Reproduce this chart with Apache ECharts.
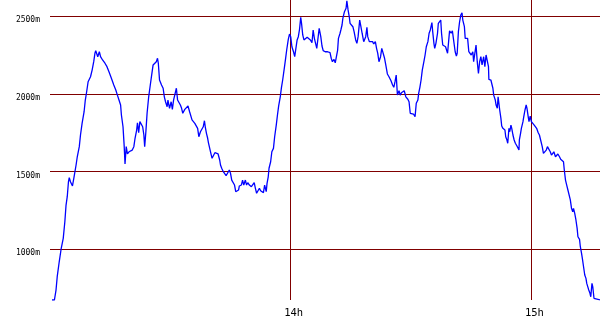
<!DOCTYPE html>
<html>
<head>
<meta charset="utf-8">
<script src="https://cdn.jsdelivr.net/npm/echarts@6/dist/echarts.min.js"></script>
<style>
html,body{margin:0;padding:0;background:#fff;}
#chart{width:600px;height:330px;}
</style>
</head>
<body>
<div id="chart"></div>
<script>
// x: minutes after 13:00, y: altitude in metres
const altitudeTrack = [
[0.5,674],[1.1,674],[1.5,738],[1.8,824],[2.3,920],[2.8,1007],[3.3,1071],[3.7,1178],[4.0,1285],[4.3,1339],[4.6,1435],[4.8,1461],[5.1,1435],[5.6,1408],[6.0,1467],[6.5,1543],[6.8,1596],[7.3,1661],[7.6,1736],[8.0,1811],[8.5,1886],[8.8,1961],[9.1,2008],[9.5,2079],[9.9,2069],[10.1,2111],[10.5,2154],[10.9,2208],[11.2,2262],[11.4,2279],[11.9,2240],[12.3,2272],[12.6,2240],[13.1,2219],[13.7,2198],[14.2,2176],[14.7,2143],[15.3,2101],[15.9,2058],[16.4,2026],[16.8,1993],[17.2,1961],[17.6,1929],[17.8,1865],[18.1,1854],[18.2,1789],[18.5,1661],[18.7,1549],[19.0,1661],[19.3,1614],[19.7,1628],[20.1,1628],[20.5,1639],[20.9,1661],[21.2,1715],[21.6,1768],[21.8,1815],[22.1,1751],[22.4,1822],[22.8,1828],[23.1,1789],[23.4,1736],[23.6,1661],[23.9,1757],[24.2,1876],[24.6,1982],[25.0,2058],[25.4,2133],[25.7,2187],[26.1,2198],[26.5,2208],[26.8,2230],[27.0,2198],[27.3,2090],[27.4,2079],[27.8,2058],[28.2,2037],[28.5,1982],[28.8,1950],[29.2,1918],[29.4,1961],[29.8,1908],[30.2,1950],[30.5,1901],[30.8,1961],[31.2,1961],[31.5,2037],[31.8,1961],[32.2,1957],[32.5,1929],[32.8,1908],[33.1,1876],[33.6,1901],[34.0,1901],[34.4,1923],[34.8,1886],[35.1,1876],[35.4,1833],[35.7,1843],[36.1,1811],[36.5,1800],[36.8,1779],[37.1,1725],[37.5,1757],[37.9,1768],[38.2,1789],[38.5,1828],[38.7,1789],[39.0,1747],[39.3,1715],[39.5,1686],[39.9,1678],[40.1,1618],[40.4,1586],[40.8,1596],[41.1,1622],[41.5,1622],[41.9,1614],[42.3,1575],[42.5,1543],[42.8,1522],[43.2,1500],[43.6,1493],[43.9,1474],[44.3,1485],[44.7,1511],[45.0,1489],[45.3,1446],[45.7,1435],[46.0,1414],[46.3,1371],[46.7,1382],[47.0,1382],[47.2,1408],[47.7,1414],[48.0,1446],[48.3,1414],[48.7,1446],[49.0,1414],[49.3,1429],[49.7,1414],[50.2,1403],[50.6,1393],[50.9,1429],[51.2,1393],[51.5,1361],[51.9,1371],[52.2,1393],[52.5,1377],[52.9,1386],[53.2,1365],[53.5,1414],[53.9,1371],[54.1,1425],[54.4,1467],[54.6,1522],[55.0,1564],[55.3,1628],[55.7,1650],[56.0,1725],[56.4,1800],[56.7,1865],[57.0,1923],[57.4,1982],[57.7,2043],[58.0,2090],[58.4,2165],[58.7,2223],[59.0,2283],[59.4,2352],[59.7,2386],[60.0,2369],[60.3,2304],[60.7,2272],[61.0,2240],[61.3,2230],[61.6,2348],[61.9,2369],[62.2,2416],[62.5,2494],[62.7,2455],[63.0,2380],[63.3,2348],[63.7,2358],[64.1,2365],[64.5,2358],[64.9,2348],[65.3,2330],[65.6,2412],[65.9,2358],[66.1,2369],[66.5,2294],[66.8,2283],[67.1,2423],[67.5,2369],[67.8,2309],[68.1,2279],[68.6,2272],[69.2,2272],[69.8,2266],[70.1,2230],[70.4,2208],[70.8,2223],[71.1,2201],[71.4,2208],[71.7,2283],[71.9,2358],[72.3,2391],[72.5,2412],[72.8,2444],[73.0,2487],[73.4,2530],[73.8,2552],[74.0,2600],[74.3,2541],[74.6,2497],[74.8,2455],[75.2,2444],[75.5,2433],[75.8,2401],[76.2,2348],[76.5,2326],[76.8,2369],[77.2,2476],[77.5,2433],[77.8,2391],[78.2,2337],[78.5,2348],[78.7,2369],[79.0,2429],[79.2,2369],[79.6,2337],[80.0,2348],[80.4,2337],[80.7,2322],[81.1,2337],[81.4,2294],[81.7,2262],[82.0,2208],[82.4,2240],[82.7,2294],[83.0,2288],[83.4,2230],[83.7,2187],[84.1,2129],[84.5,2111],[85.0,2085],[85.4,2058],[85.7,2043],[86.0,2079],[86.3,2122],[86.6,1993],[87.0,2021],[87.3,1993],[87.6,2008],[88.0,2004],[88.3,2021],[88.7,1982],[89.2,1966],[89.5,1950],[89.8,1876],[90.2,1871],[90.6,1871],[91.0,1854],[91.3,1940],[91.7,1961],[91.9,2004],[92.2,2043],[92.5,2090],[92.8,2154],[93.2,2208],[93.5,2251],[93.8,2304],[94.2,2337],[94.5,2391],[94.8,2412],[95.2,2459],[95.4,2401],[95.7,2326],[95.9,2294],[96.2,2326],[96.6,2391],[96.8,2455],[97.1,2450],[97.4,2476],[97.6,2391],[97.9,2315],[98.2,2304],[98.6,2304],[98.9,2294],[99.1,2262],[99.4,2348],[99.6,2407],[100.0,2391],[100.3,2407],[100.6,2348],[101.0,2272],[101.3,2244],[101.5,2262],[101.8,2401],[102.1,2465],[102.4,2508],[102.7,2523],[102.9,2476],[103.3,2433],[103.5,2358],[103.9,2352],[104.1,2358],[104.4,2272],[104.7,2262],[105.0,2251],[105.4,2272],[105.6,2208],[105.9,2208],[106.2,2315],[106.5,2208],[106.8,2133],[107.1,2208],[107.4,2240],[107.7,2187],[108.1,2240],[108.4,2176],[108.7,2251],[109.0,2262],[109.3,2176],[109.4,2094],[109.7,2101],[109.9,2090],[110.2,2094],[110.4,2037],[110.6,1993],[111.0,1961],[111.2,1929],[111.5,1908],[111.7,1982],[112.0,1993],[112.1,1897],[112.4,1843],[112.6,1794],[112.9,1779],[113.1,1789],[113.4,1768],[113.6,1725],[113.9,1704],[114.1,1683],[114.4,1779],[114.6,1757],[114.9,1800],[115.1,1779],[115.4,1736],[115.7,1704],[116.0,1683],[116.4,1665],[116.9,1639],[117.0,1704],[117.3,1747],[117.5,1779],[117.9,1822],[118.1,1854],[118.4,1897],[118.7,1929],[118.9,1908],[119.2,1854],[119.4,1822],[119.7,1858],[120.0,1822],[120.3,1833],[120.7,1800],[121.0,1811],[121.3,1779],[121.7,1751],[122.0,1736],[122.3,1747],[122.7,1661],[123.0,1618],[123.3,1628],[123.7,1639],[124.0,1661],[124.3,1657],[124.7,1628],[125.0,1607],[125.3,1618],[125.6,1628],[126.0,1596],[126.3,1586],[126.6,1614],[127.0,1596],[127.3,1580],[127.6,1586],[128.0,1564],[128.2,1511],[128.5,1446],[128.8,1414],[129.1,1382],[129.5,1371],[129.7,1318],[130.0,1264],[130.3,1242],[130.5,1264],[130.8,1232],[131.1,1189],[131.4,1135],[131.6,1081],[132.0,1064],[132.2,1017],[132.5,974],[132.7,942],[133.0,888],[133.3,835],[133.6,813],[133.8,781],[134.1,755],[134.3,738],[134.6,717],[134.8,695],[135.1,781],[135.3,759],[135.6,685],[135.8,674],[137.2,674]
];
const hourTicks = [60, 120];          // 14h, 15h
const altitudeTicks = [1000, 1500, 2000, 2500];
const xRange = [0, 137.1];
const yRange = [674, 2605];

const gridColor = '#800000';
const chart = echarts.init(document.getElementById('chart'), null, {renderer: 'canvas'});
chart.setOption({
  animation: false,
  backgroundColor: '#ffffff',
  grid: {left: 50, right: 0, top: 0, bottom: 30, containLabel: false, outerBoundsMode: 'none'},
  xAxis: {
    type: 'value',
    min: xRange[0], max: xRange[1], interval: 60,
    axisLine: {show: false}, axisTick: {show: false},
    splitLine: {show: true, showMinLine: false, showMaxLine: false, lineStyle: {color: gridColor, width: 1}},
    axisLabel: {
      showMinLabel: false, showMaxLabel: false, margin: 8,
      fontFamily: 'DejaVu Sans Mono', fontSize: 10.5, color: '#000',
      padding: [0, 0, 0, 6],
      formatter: v => hourTicks.includes(v) ? (13 + v / 60) + 'h' : ''
    }
  },
  yAxis: {
    type: 'value',
    min: yRange[0], max: yRange[1], splitNumber: 4, minInterval: 500, maxInterval: 500,
    axisLine: {show: false}, axisTick: {show: false},
    splitLine: {show: true, showMinLine: false, showMaxLine: false, lineStyle: {color: gridColor, width: 1}},
    axisLabel: {
      showMinLabel: false, showMaxLabel: false, margin: 10,
      fontFamily: 'DejaVu Sans Mono', fontSize: 8, color: '#000',
      verticalAlign: 'top',
      formatter: v => altitudeTicks.includes(v) ? v + 'm' : ''
    }
  },
  series: [{
    type: 'line',
    data: altitudeTrack,
    showSymbol: false,
    symbol: 'none',
    lineStyle: {color: '#0000ff', width: 1.3},
    clip: true
  }]
});
</script>
</body>
</html>
